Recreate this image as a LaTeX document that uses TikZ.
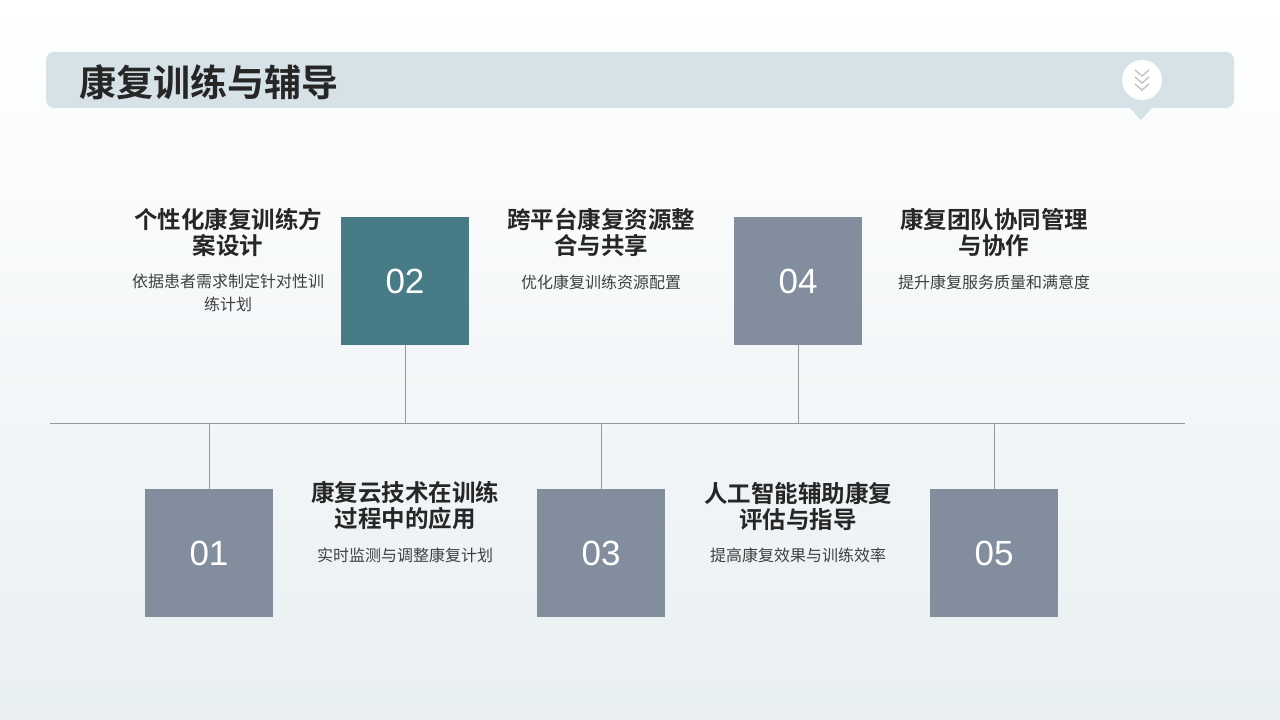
\documentclass[tikz,border=0pt]{standalone}
\usepackage{fontspec}
\setmainfont{Liberation Sans}
\newfontfamily\cjk{Noto Sans CJK SC}
\newfontfamily\cjkb{Noto Sans CJK SC Bold}
\begin{document}
\begin{tikzpicture}[x=1pt,y=-1pt,
  numbox/.style={minimum width=128pt,minimum height=128pt,inner sep=0,text=white,font=\fontsize{35}{35}\selectfont},
  ttl/.style={font=\cjkb\fontsize{23.5}{26}\selectfont,text=black!85,align=center,inner sep=0},
  dsc/.style={font=\cjk\fontsize{16}{23}\selectfont,text=black!75,align=center,inner sep=0},
  ln/.style={draw=gray!80,line width=0.8pt}]
\definecolor{teal}{HTML}{477C87}
\definecolor{slate}{HTML}{828E9E}
\definecolor{barc}{HTML}{D6E2E8}
\shade[top color=white,bottom color=barc!55] (0,0) rectangle (1280,720);
\useasboundingbox (0,0) rectangle (1280,720);
\fill[barc] (1128,106) -- (1141,120) -- (1154,106) -- cycle;
\fill[barc,rounded corners=8pt] (46,52) rectangle (1234,108);
\node[anchor=west,font=\cjkb\fontsize{37}{37}\selectfont,text=black!85,inner sep=0] (title) at (79,82) {康复训练与辅导};
\fill[white] (1142,80) circle (20);
\draw[gray!45,line width=1.5pt] (1135,70)--(1142,76)--(1149,70) (1135,77)--(1142,83)--(1149,77) (1135,84)--(1142,90)--(1149,84);
\coordinate (L) at (50,423); \coordinate (R) at (1185,423);
\draw[ln] (L) -- (R);
\node[numbox,fill=teal] (b2) at (405,281) {02};
\node[numbox,fill=slate] (b4) at (798,281) {04};
\node[numbox,fill=slate] (b1) at (209,553) {01};
\node[numbox,fill=slate] (b3) at (601,553) {03};
\node[numbox,fill=slate] (b5) at (994,553) {05};
\draw[ln] (b2.south) -- (405,423);
\draw[ln] (b4.south) -- (798,423);
\draw[ln] (b1.north) -- (209,423);
\draw[ln] (b3.north) -- (601,423);
\draw[ln] (b5.north) -- (994,423);
\node[ttl] (t1) at (228,232) {个性化康复训练方\\案设计};
\node[dsc] (d1) at (228,293) {依据患者需求制定针对性训\\练计划};
\node[ttl] (t2) at (601,232) {跨平台康复资源整\\合与共享};
\node[dsc] (d2) at (601,282) {优化康复训练资源配置};
\node[ttl] (t3) at (994,232) {康复团队协同管理\\与协作};
\node[dsc] (d3) at (994,282) {提升康复服务质量和满意度};
\node[ttl] (t4) at (405,506) {康复云技术在训练\\过程中的应用};
\node[dsc] (d4) at (405,555) {实时监测与调整康复计划};
\node[ttl] (t5) at (798,506) {人工智能辅助康复\\评估与指导};
\node[dsc] (d5) at (798,555) {提高康复效果与训练效率};
\end{tikzpicture}
\end{document}
